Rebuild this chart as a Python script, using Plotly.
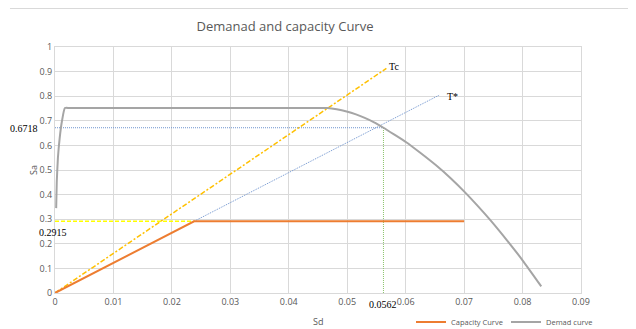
import plotly.graph_objects as go

# ---- data ----
capacity_sd = [0.0, 0.0238, 0.070]
capacity_sa = [0.0, 0.2915, 0.2915]

demand_sd = [0.0002, 0.0003, 0.0005, 0.0008, 0.0012, 0.0017, 0.0025, 0.0440, 0.0466, 0.0482,
             0.0499, 0.0515, 0.0530, 0.0546, 0.0562, 0.0580, 0.0601, 0.0625, 0.0652, 0.0677,
             0.0702, 0.0724, 0.0746, 0.0773, 0.0800, 0.0832]
demand_sa = [0.345, 0.45, 0.55, 0.63, 0.70, 0.752, 0.752, 0.752, 0.752, 0.747,
             0.738, 0.726, 0.712, 0.694, 0.6718, 0.645, 0.613, 0.570, 0.519, 0.4665,
             0.408, 0.352, 0.293, 0.215, 0.133, 0.027]

tc_sd = [0.0, 0.0567]
tc_sa = [0.0, 0.913]

tstar_sd = [0.0238, 0.0658]
tstar_sa = [0.2915, 0.805]

perf_sd = 0.0562
perf_sa = 0.6718
yield_sd = 0.0238
yield_sa = 0.2915

x_ticks = [0, 0.01, 0.02, 0.03, 0.04, 0.05, 0.06, 0.07, 0.08, 0.09]
x_ticklabels = ["0", "0.01", "0.02", "0.03", "0.04", "0.05", "0.06", "0.07", "0.08", "0.09"]
y_ticks = [0, 0.1, 0.2, 0.3, 0.4, 0.5, 0.6, 0.7, 0.8, 0.9, 1]
y_ticklabels = ["0", "0.1", "0.2", "0.3", "0.4", "0.5", "0.6", "0.7", "0.8", "0.9", "1"]

W, H = 628, 321  # page body has an 8px margin
fig = go.Figure()

# guide lines
fig.add_trace(go.Scatter(x=[0, yield_sd], y=[yield_sa, yield_sa], mode="lines",
                         line=dict(color="#FFFF00", width=1.5, dash="4px,2px"), showlegend=False, hoverinfo="skip"))
fig.add_trace(go.Scatter(x=[0, perf_sd], y=[perf_sa, perf_sa], mode="lines",
                         line=dict(color="#6F94CF", width=1, dash="1px,1px"), showlegend=False, hoverinfo="skip"))
fig.add_trace(go.Scatter(x=[perf_sd, perf_sd], y=[0, perf_sa], mode="lines",
                         line=dict(color="#8CC36B", width=1, dash="1px,1px"), showlegend=False, hoverinfo="skip"))
fig.add_trace(go.Scatter(x=tc_sd, y=tc_sa, mode="lines",
                         line=dict(color="#FFC000", width=1.5, dash="5px,2px,2px,2px"), showlegend=False, hoverinfo="skip"))
fig.add_trace(go.Scatter(x=tstar_sd, y=tstar_sa, mode="lines",
                         line=dict(color="#6F94CF", width=1, dash="1px,1px"), showlegend=False, hoverinfo="skip"))

# main curves
fig.add_trace(go.Scatter(x=capacity_sd, y=capacity_sa, mode="lines", name="Capacity Curve",
                         line=dict(color="#ED7D31", width=2)))
fig.add_trace(go.Scatter(x=demand_sd, y=demand_sa, mode="lines", name="Demad curve",
                         line=dict(color="#A5A5A5", width=2, shape="spline", smoothing=0.5)))

serif = dict(family="Liberation Serif", size=10, color="#000000")
fig.add_annotation(x=tc_sd[1], y=tc_sa[1], text="Tc", showarrow=False, xanchor="left",
                   xshift=1, yshift=2, font=serif)
fig.add_annotation(x=tstar_sd[1], y=tstar_sa[1], text="T*", showarrow=False, xanchor="left",
                   xshift=5, yshift=-2, font=serif)
fig.add_annotation(x=0, y=perf_sa, text=str(perf_sa), showarrow=False, xanchor="right",
                   xshift=-15, yshift=-1, font=serif)
fig.add_annotation(x=0, y=yield_sa, text=str(yield_sa), showarrow=False, xanchor="left",
                   xshift=-18, yshift=-11, font=serif)
fig.add_annotation(x=perf_sd, y=0, text=str(perf_sd), showarrow=False, yanchor="top",
                   yshift=-4, font=serif)

# axis titles
axfont = dict(family="Open Sans", size=9, color="#595959")
fig.add_annotation(xref="paper", yref="paper", x=0.5, y=-0.114, text="Sd", showarrow=False,
                   xanchor="center", yanchor="middle", font=axfont)
fig.add_annotation(xref="paper", yref="paper", x=-0.0418, y=0.5, text="Sa", showarrow=False,
                   textangle=-90, xanchor="center", yanchor="middle", font=axfont)

# chart border line at top
fig.add_shape(type="line", xref="paper", yref="paper", x0=-0.0856, x1=1.2, y0=1.1565, y1=1.1565,
              line=dict(color="#D9D9D9", width=1))

tickfont = dict(family="Open Sans", size=9, color="#595959")
fig.update_layout(
    width=W, height=H,
    margin=dict(l=47, r=55, t=39, b=36, autoexpand=False),
    paper_bgcolor="white", plot_bgcolor="white",
    title=dict(text="Demanad and capacity Curve", x=277 / W, xanchor="center", y=1 - 18 / H,
               yanchor="middle", font=dict(family="Open Sans", size=13, color="#595959")),
    xaxis=dict(range=[0, 0.09], tickvals=x_ticks, ticktext=x_ticklabels, showgrid=True,
               gridcolor="#D9D9D9", zeroline=False, showline=True, linecolor="#D9D9D9",
               tickfont=tickfont, ticks="", mirror=True, automargin=False),
    yaxis=dict(range=[0, 1], tickvals=y_ticks, ticktext=y_ticklabels, showgrid=True,
               gridcolor="#D9D9D9", zeroline=False, showline=True, linecolor="#D9D9D9",
               tickfont=tickfont, ticks="", mirror=True, automargin=False),
    legend=dict(orientation="h", x=403 / W, xref="container", xanchor="left",
                y=1 - 314 / H, yref="container", yanchor="middle",
                font=dict(family="Open Sans", size=7.5, color="#595959"), itemwidth=30,
                entrywidth=50, bgcolor="rgba(0,0,0,0)"),
    showlegend=True,
)

fig.write_html("out.html")
